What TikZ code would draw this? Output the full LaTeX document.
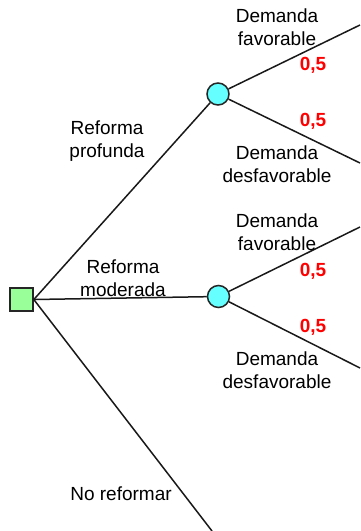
\documentclass[tikz,border=0pt]{standalone}
\usepackage{fontspec}
\setmainfont{Liberation Sans}
\definecolor{sqfill}{HTML}{99FF99}
\definecolor{cfill}{HTML}{66FFFF}
\definecolor{prob}{HTML}{FF0000}
\begin{document}
\begin{tikzpicture}[x=1pt,y=-1pt,
  branch/.style={line width=1.5pt,draw=black!90},
  decision/.style={draw=black!85,line width=1.6pt,fill=sqfill,minimum size=23pt,inner sep=0pt},
  chance/.style={circle,draw=black!85,line width=1.5pt,fill=cfill,minimum size=22pt,inner sep=0pt},
  lab/.style={align=center,inner sep=0pt,font=\fontsize{19}{22.5}\selectfont},
  pr/.style={inner sep=0pt,text=prob,font=\fontsize{19}{22.5}\selectfont\bfseries}]
\useasboundingbox (0,0) rectangle (360,531);
\node[decision] (sq) at (21.5,299.5) {};
\node[chance] (c1) at (218,94) {};
\node[chance] (c2) at (218.5,296.5) {};
\coordinate (e1) at (360,25);
\coordinate (e2) at (360,163);
\coordinate (e3) at (360,227);
\coordinate (e4) at (360,368);
\coordinate (e5) at (212,531);
\draw[branch] (sq.east) -- (c1);
\draw[branch] (sq.east) -- (c2);
\draw[branch] (sq.east) -- (e5);
\draw[branch] (c1) -- (e1);
\draw[branch] (c1) -- (e2);
\draw[branch] (c2) -- (e3);
\draw[branch] (c2) -- (e4);
\node[lab] (l1) at (277,27) {Demanda\\favorable};
\node[lab] (l2) at (277,164) {Demanda\\desfavorable};
\node[lab] (l3) at (277,232) {Demanda\\favorable};
\node[lab] (l4) at (277,370) {Demanda\\desfavorable};
\node[lab] (l5) at (107,141) {Reforma\\profunda};
\node[lab] (l6) at (123,278) {Reforma\\moderada};
\node[lab] (l7) at (121,494) {No reformar};
\node[pr] (p1) at (313,65) {0,5};
\node[pr] (p2) at (313,121) {0,5};
\node[pr] (p3) at (313,271) {0,5};
\node[pr] (p4) at (313,327) {0,5};
\end{tikzpicture}
\end{document}
